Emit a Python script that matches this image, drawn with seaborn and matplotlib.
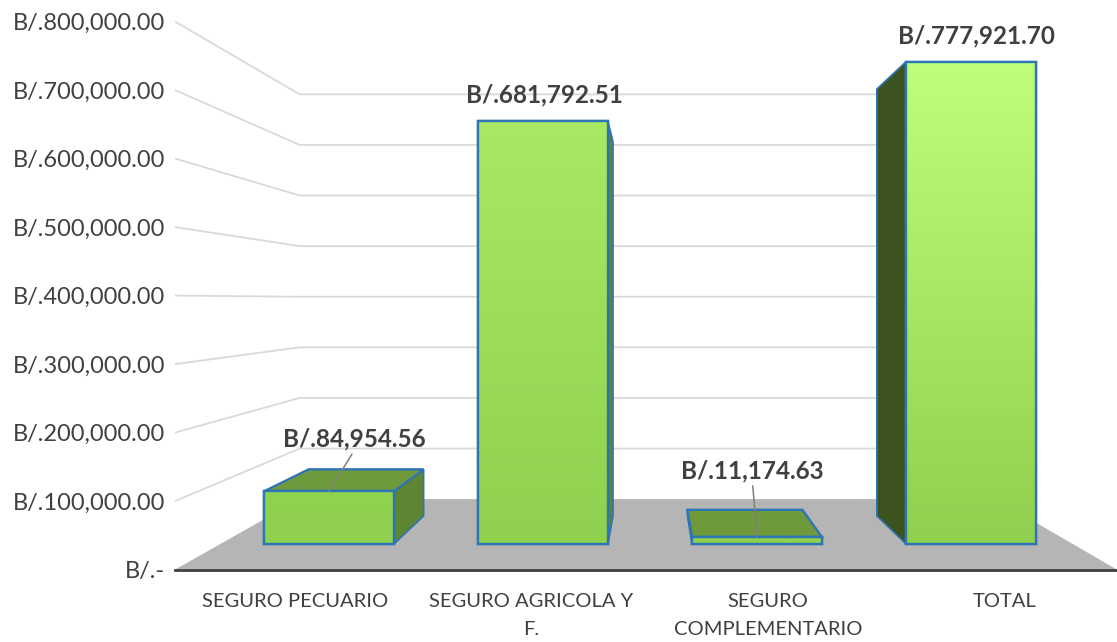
import numpy as np
import seaborn as sns
import matplotlib.pyplot as plt
from matplotlib.colors import LinearSegmentedColormap
from matplotlib.patches import Polygon, Rectangle

categories = ["SEGURO PECUARIO", "SEGURO AGRICOLA Y\nF.", "SEGURO\nCOMPLEMENTARIO", "TOTAL"]
values = [84954.56, 681792.51, 11174.63, 777921.70]
value_labels = ["B/.84,954.56", "B/.681,792.51", "B/.11,174.63", "B/.777,921.70"]
axis_values = [0, 100000, 200000, 300000, 400000, 500000, 600000, 700000, 800000]
axis_labels = ["B/.-", "B/.100,000.00", "B/.200,000.00", "B/.300,000.00", "B/.400,000.00",
               "B/.500,000.00", "B/.600,000.00", "B/.700,000.00", "B/.800,000.00"]

# fake 3d: everything is scaled towards one vanishing point
VX = (652 - 329) / 214
VY = (544 - 300) / 0.00062
BAR_BACK = 0.885
WALL_FRONT = 1.105
WALL_BACK = 0.816
BAR_W = 0.607
EDGE = "#2e75b6"


def proj(x, v, s):
    return VX + (x - VX) * s, VY + (v - VY) * s


sns.set_theme(style="white")
plt.rcParams['font.family'] = ['Lato', 'DejaVu Sans']

fig = plt.figure(figsize=(11.17, 6.42), dpi=100)
ax = fig.add_axes([175 / 1117, 72 / 642, 942 / 1117, 570 / 642])

sns.barplot(x=categories, y=values, width=BAR_W, color="#8fd04e", edgecolor=EDGE,
            linewidth=1.7, saturation=1, zorder=3, ax=ax)
bars = [q for q in ax.patches if isinstance(q, Rectangle)]

xlim = ((175 - 329) / 214, (1117 - 329) / 214)
ylim = (-26 / 0.00062, 544 / 0.00062)

# wall edges in bar-plane x
wall_l = VX + (xlim[0] - VX) / WALL_FRONT
wall_r = VX + (xlim[1] - VX) / WALL_FRONT

# floor
floor = [proj(wall_l, 0, WALL_FRONT), proj(wall_r, 0, WALL_FRONT),
         proj(wall_r, 0, WALL_BACK), proj(wall_l, 0, WALL_BACK)]
ax.add_patch(Polygon(floor, closed=True, fc="#b5b5b5", ec="none", zorder=1))

# grid on the two walls
for v in axis_values[1:]:
    a = proj(wall_l, v, WALL_FRONT)
    b = proj(wall_l, v, WALL_BACK)
    c = proj(wall_r, v, WALL_BACK)
    ax.plot([a[0], b[0], c[0]], [a[1], b[1], c[1]], color="#d9d9d9", lw=1.3, zorder=1.5)

# top and side faces
for x, v in zip(range(len(values)), values):
    x0 = x - BAR_W / 2
    x1 = x + BAR_W / 2
    if v < VY:
        top = [proj(x0, v, 1), proj(x1, v, 1), proj(x1, v, BAR_BACK), proj(x0, v, BAR_BACK)]
        ax.add_patch(Polygon(top, closed=True, fc="#6f9a3c", ec=EDGE, lw=1.7, zorder=2.2))
    xs = x1 if x1 < VX else x0
    col = "#5d8532" if x1 < VX else "#3c5320"
    side = [proj(xs, 0, 1), proj(xs, v, 1), proj(xs, v, BAR_BACK), proj(xs, 0, BAR_BACK)]
    ax.add_patch(Polygon(side, closed=True, fc=col, ec=EDGE, lw=1.2, zorder=2.1))

# bar fronts get a vertical gradient, lighter on the taller bars
top_colors = ["#90d34f", "#a8e864", "#8fd14e", "#bdff78"]
for p, c in zip(bars, top_colors):
    cmap = LinearSegmentedColormap.from_list("bar", ["#8fd04e", c])
    grad = np.linspace(0, 1, 64).reshape(-1, 1)
    im = ax.imshow(grad, cmap=cmap, origin="lower", aspect="auto", vmin=0, vmax=1, zorder=3.1,
                   extent=(p.get_x(), p.get_x() + p.get_width(), 0, p.get_height()))
    im.set_clip_path(p)
    ax.add_patch(Rectangle(p.get_xy(), p.get_width(), p.get_height(), fill=False,
                           ec=EDGE, lw=1.7, zorder=3.2))

ax.set_xlim(xlim)
ax.set_ylim(ylim)

# value labels, offsets in pixels from the top of each bar
offsets = [(25, 52), (1.5, 26), (-4.5, 66), (5, 26)]
leader = [True, False, True, False]
for x, v, t, off, ld in zip(range(len(values)), values, value_labels, offsets, leader):
    arrow = dict(arrowstyle="-", color="#7f7f7f", lw=1.1, shrinkA=0, shrinkB=0, relpos=(0.5, 0)) if ld else None
    ax.annotate(t, xy=(x, v), xytext=off, textcoords="offset pixels", ha="center", va="center",
                fontsize=17.5, fontweight="bold", color="#404040", arrowprops=arrow, zorder=5)

# ticks sit on the front plane of the walls
ax.set_xticks([proj(x, 0, WALL_FRONT)[0] for x in range(len(values))])
ax.set_xticklabels(categories, linespacing=1.8)
ax.set_yticks([proj(wall_l, v, WALL_FRONT)[1] for v in axis_values])
ax.set_yticklabels(axis_labels)
ax.tick_params(axis="x", length=0, pad=16.5, labelsize=14.5, labelcolor="#404040")
ax.tick_params(axis="y", length=0, pad=7, labelsize=17, labelcolor="#404040")
ax.set_xlabel("")
ax.set_ylabel("")

for s in ["top", "left", "right"]:
    ax.spines[s].set_visible(False)
ax.spines["bottom"].set_color("#404040")
ax.spines["bottom"].set_linewidth(2)
ax.patch.set_alpha(0)

fig.savefig("out.png", dpi=100)
